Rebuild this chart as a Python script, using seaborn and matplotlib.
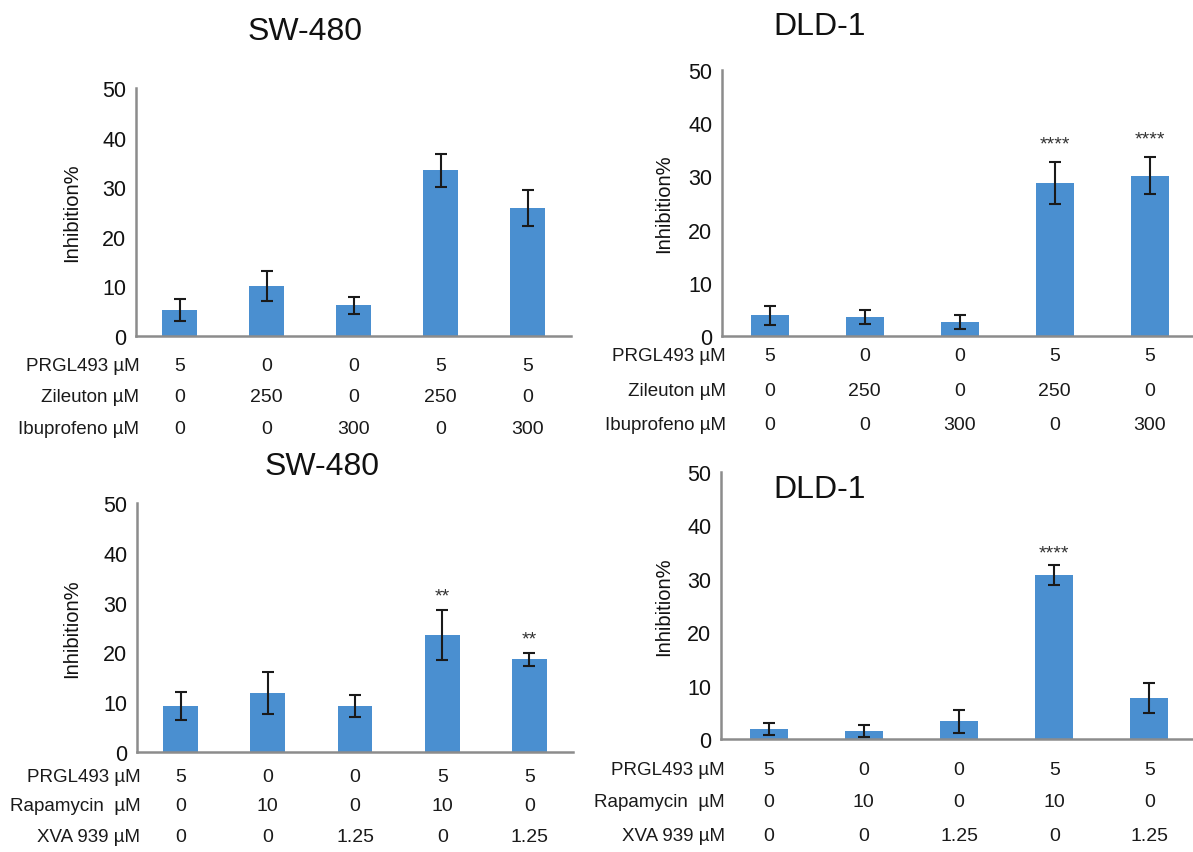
import numpy as np
import pandas as pd
import matplotlib
matplotlib.use("Agg")
import matplotlib.pyplot as plt
import matplotlib.transforms as mtransforms
import seaborn as sns

sns.set_theme(style="white")
plt.rcParams["font.family"] = ["Liberation Sans", "DejaVu Sans"]

# ---------------- data ----------------
groups = ["G1", "G2", "G3", "G4", "G5"]

tl_title = "SW-480"
tl_values = [5.2, 10.1, 6.2, 33.4, 25.8]
tl_errors = [2.2, 3.0, 1.7, 3.3, 3.6]
tl_stars = ["", "", "", "", ""]
tl_rows = ["PRGL493 µM", "Zileuton µM", "Ibuprofeno µM"]
tl_prgl = ["5", "0", "0", "5", "5"]
tl_zil = ["0", "250", "0", "250", "0"]
tl_ibu = ["0", "0", "300", "0", "300"]

tr_title = "DLD-1"
tr_values = [3.9, 3.5, 2.7, 28.8, 30.1]
tr_errors = [1.8, 1.3, 1.3, 3.9, 3.5]
tr_stars = ["", "", "", "****", "****"]
tr_rows = ["PRGL493 µM", "Zileuton µM", "Ibuprofeno µM"]
tr_prgl = ["5", "0", "0", "5", "5"]
tr_zil = ["0", "250", "0", "250", "0"]
tr_ibu = ["0", "0", "300", "0", "300"]

bl_title = "SW-480"
bl_values = [9.2, 11.9, 9.2, 23.5, 18.6]
bl_errors = [2.8, 4.2, 2.2, 5.0, 1.3]
bl_stars = ["", "", "", "**", "**"]
bl_rows = ["PRGL493 µM", "Rapamycin  µM", "XVA 939 µM"]
bl_prgl = ["5", "0", "0", "5", "5"]
bl_rapa = ["0", "10", "0", "10", "0"]
bl_xva = ["0", "0", "1.25", "0", "1.25"]

br_title = "DLD-1"
br_values = [1.9, 1.5, 3.3, 30.7, 7.6]
br_errors = [1.1, 1.1, 2.2, 1.9, 2.8]
br_stars = ["", "", "", "****", ""]
br_rows = ["PRGL493 µM", "Rapamycin  µM", "XVA 939 µM"]
br_prgl = ["5", "0", "0", "5", "5"]
br_rapa = ["0", "10", "0", "10", "0"]
br_xva = ["0", "0", "1.25", "0", "1.25"]

y_ticks = [0, 10, 20, 30, 40, 50]

# ---------------- style ----------------
W, H = 1193, 853
BAR = "#4A8FD0"
SPINE = "#8C8C8C"

fig = plt.figure(figsize=(W / 100, H / 100), dpi=100)


def fy(p):
    return 1 - p / H


panels = [
    dict(rect=(136, 89, 571, 337), title=tl_title, tpos=(305, 32),
         values=tl_values, errors=tl_errors, stars=tl_stars,
         rows=tl_rows, cols=[tl_prgl, tl_zil, tl_ibu], rowy=[367, 398, 430],
         ylabx=72, starpad=15),
    dict(rect=(722, 71, 1197, 337), title=tr_title, tpos=(820, 27),
         values=tr_values, errors=tr_errors, stars=tr_stars,
         rows=tr_rows, cols=[tr_prgl, tr_zil, tr_ibu], rowy=[357, 392, 426],
         ylabx=664, starpad=18),
    dict(rect=(137, 504, 573, 753), title=bl_title, tpos=(322, 467),
         values=bl_values, errors=bl_errors, stars=bl_stars,
         rows=bl_rows, cols=[bl_prgl, bl_rapa, bl_xva], rowy=[777, 807, 838],
         ylabx=72, starpad=14),
    dict(rect=(721, 473, 1197, 740), title=br_title, tpos=(820, 490),
         values=br_values, errors=br_errors, stars=br_stars,
         rows=br_rows, cols=[br_prgl, br_rapa, br_xva], rowy=[771, 803, 837],
         ylabx=664, starpad=12),
]

for p in panels:
    x0, y0, x1, y1 = p["rect"]
    ax = fig.add_axes([x0 / W, fy(y1), (x1 - x0) / W, (y1 - y0) / H])
    df = pd.DataFrame({"group": groups, "value": p["values"]})
    sns.barplot(data=df, x="group", y="value", color=BAR, saturation=1,
                width=0.4, ax=ax, errorbar=None, edgecolor="none")
    ax.errorbar(np.arange(len(groups)), p["values"], yerr=p["errors"],
                fmt="none", ecolor="#1a1a1a", elinewidth=1.5, capsize=4,
                capthick=1.5, zorder=5)
    ax.set_xlim(-0.5, len(groups) - 0.5)
    ax.set_ylim(0, 50)
    ax.set_yticks(y_ticks)
    ax.set_yticklabels([str(t) for t in y_ticks], fontsize=15.5, color="#111111")
    ax.set_xticks(np.arange(len(groups)) + 0.5)
    ax.set_xticklabels([])
    ax.set_xlabel("")
    ax.set_ylabel("")
    for s in ["top", "right"]:
        ax.spines[s].set_visible(False)
    for s in ["left", "bottom"]:
        ax.spines[s].set_color(SPINE)
        ax.spines[s].set_linewidth(1.8)
    ax.tick_params(axis="both", direction="out", length=4, width=1.2,
                   color=SPINE, pad=3)
    ax.grid(False)
    ax.patch.set_alpha(0)

    # stars
    for i, s in enumerate(p["stars"]):
        if s:
            ax.annotate(s, (i, p["values"][i] + p["errors"][i]),
                        xytext=(0, p["starpad"]), textcoords="offset pixels",
                        ha="center", va="center", fontsize=14,
                        color="#333333")

    # title
    fig.text(p["tpos"][0] / W, fy(p["tpos"][1]), p["title"], ha="center",
             va="center", fontsize=23, color="#111111")
    # ylabel
    fig.text(p["ylabx"] / W, fy((y0 + y1) / 2), "Inhibition%", rotation=90,
             ha="center", va="center", fontsize=14.5, color="#111111")

    # treatment table
    tr = mtransforms.blended_transform_factory(ax.transData, fig.transFigure)
    for r, (name, col) in enumerate(zip(p["rows"], p["cols"])):
        yy = fy(p["rowy"][r])
        ax.text(-0.46, yy, name, transform=tr, ha="right", va="center",
                fontsize=13.5, color="#1a1a1a", clip_on=False)
        for i, v in enumerate(col):
            ax.text(i, yy, v, transform=tr, ha="center", va="center",
                    fontsize=14, color="#1a1a1a", clip_on=False)

fig.savefig("out.png", dpi=100, facecolor="white")
